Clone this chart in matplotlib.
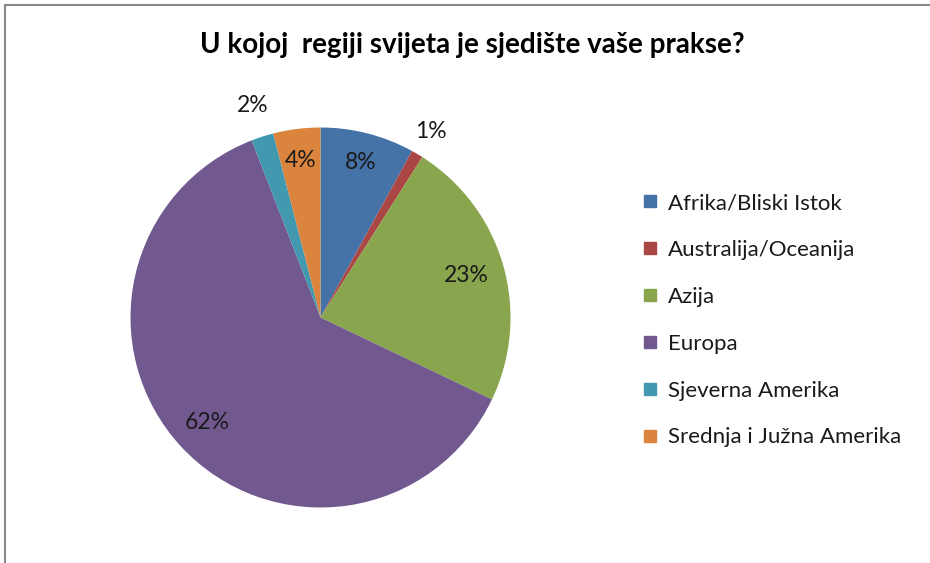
import numpy as np
import matplotlib
matplotlib.use("Agg")
import matplotlib.pyplot as plt
from matplotlib.lines import Line2D

categories = ["Afrika/Bliski Istok", "Australija/Oceanija", "Azija", "Europa",
              "Sjeverna Amerika", "Srednja i Južna Amerika"]
values = [8.0, 1.0, 23.1, 62.0, 1.9, 4.0]
pct_labels = ["8%", "1%", "23%", "62%", "2%", "4%"]
title = "U kojoj  regiji svijeta je sjedište vaše prakse?"

colors = ["#4572A7", "#AA4643", "#89A54E", "#71588F", "#4198AF", "#DB843D"]
label_dist = [0.84, 1.14, 0.80, 0.81, 1.17, 0.835]

plt.rcParams['font.family'] = ['Lato', 'DejaVu Sans']

W, H = 930, 563
fig = plt.figure(figsize=(W / 100, H / 100), dpi=100)
fig.patch.set_facecolor("white")

cx, cy, r = 320.5, 317.5, 190
ax = fig.add_axes([(cx - r) / W, (H - cy - r) / H, 2 * r / W, 2 * r / H])
wedges, _ = ax.pie(values, colors=colors, startangle=90, counterclock=False,
                   radius=1.0, wedgeprops=dict(linewidth=0))
ax.set_xlim(-1, 1)
ax.set_ylim(-1, 1)
ax.set_aspect("auto")
ax.axis("off")

for w, lab, d in zip(wedges, pct_labels, label_dist):
    mid = np.deg2rad((w.theta1 + w.theta2) / 2)
    ax.text(d * np.cos(mid), d * np.sin(mid), lab, ha="center", va="center",
            fontsize=16.5, color="#1a1a1a", clip_on=False)

fig.text(472 / W, 1 - 45 / H, title, ha="center", va="center",
         fontsize=20, fontweight="bold", color="black")

handles = [Line2D([0], [0], marker="s", linestyle="none", markersize=8.5,
                  markerfacecolor=c, markeredgecolor=c) for c in colors]
leg = fig.legend(handles, categories, loc="upper left",
                 bbox_to_anchor=(642 / W, 1 - 193 / H), frameon=False,
                 fontsize=16, labelspacing=1.21, handlelength=0.7,
                 handletextpad=0.45, borderpad=0, borderaxespad=0)
for t in leg.get_texts():
    t.set_color("#1a1a1a")

# chart border (top and left visible)
fig.add_artist(Line2D([5 / W, 1], [1 - 5 / H, 1 - 5 / H], color="#888888", lw=1.5))
fig.add_artist(Line2D([5 / W, 5 / W], [0, 1 - 5 / H], color="#888888", lw=1.5))

fig.savefig("out.png", dpi=100, facecolor="white")
